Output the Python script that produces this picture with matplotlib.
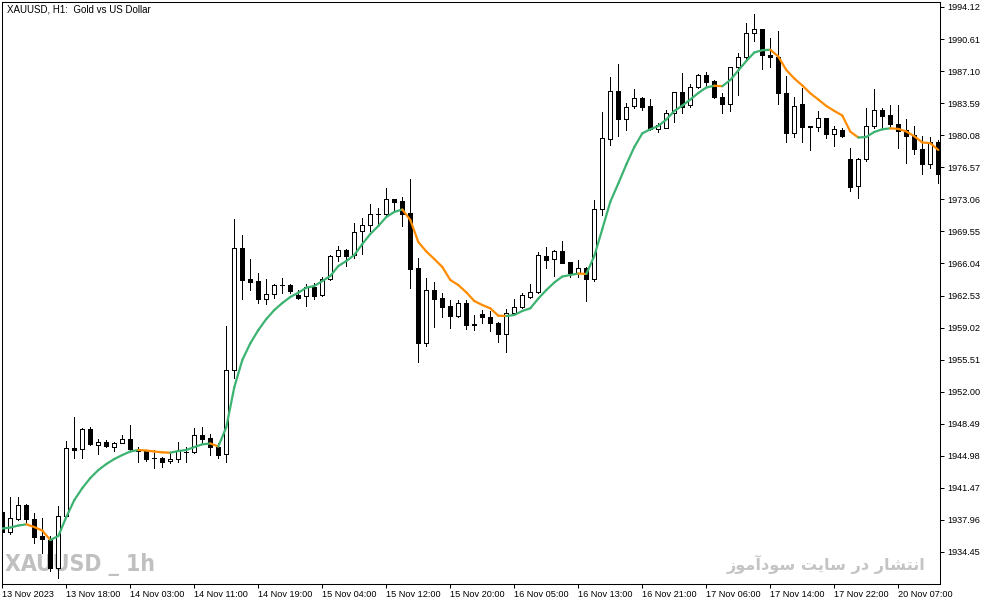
import matplotlib
matplotlib.use("Agg")
import matplotlib.pyplot as plt
from matplotlib.collections import LineCollection
import numpy as np

# ---------------- data ----------------
open_ = [1938.80, 1936.61, 1938.06, 1939.60, 1938.06, 1936.23, 1935.80, 1932.70, 1938.42, 1945.80,
         1945.69, 1947.88, 1946.17, 1946.53, 1945.98, 1946.42, 1946.79, 1945.67, 1945.54, 1944.74,
         1944.71, 1944.41, 1944.60, 1945.45, 1945.36, 1947.22, 1946.90, 1945.91, 1945.14, 1954.34,
         1967.70, 1964.34, 1964.12, 1962.11, 1962.66, 1963.63, 1963.68, 1962.55, 1962.44, 1963.43,
         1962.59, 1964.31, 1966.82, 1967.48, 1966.97, 1969.56, 1970.22, 1971.42, 1971.42, 1973.10,
         1972.88, 1971.53, 1965.51, 1957.36, 1963.10, 1962.23, 1961.35, 1960.32, 1961.71, 1959.36,
         1960.51, 1960.15, 1959.49, 1958.28, 1960.65, 1961.31, 1962.40, 1962.88, 1966.86, 1966.50,
         1967.41, 1966.20, 1964.96, 1965.51, 1964.31, 1971.97, 1979.64, 1984.93, 1981.89, 1983.32,
         1984.13, 1983.28, 1980.80, 1980.91, 1982.48, 1984.78, 1983.36, 1985.33, 1986.64, 1985.99,
         1984.30, 1983.47, 1987.52, 1988.62, 1991.24, 1991.68, 1988.87, 1988.62, 1984.67, 1980.29,
         1983.47, 1981.04, 1981.02, 1981.94, 1980.25, 1980.66, 1977.48, 1974.52, 1977.45, 1981.09,
         1982.84, 1982.26, 1981.28, 1980.66, 1980.11, 1978.57, 1976.90, 1979.37]
high = [1938.90, 1940.44, 1940.50, 1939.70, 1938.68, 1938.14, 1936.20, 1939.48, 1946.60, 1949.26,
        1948.02, 1948.17, 1946.86, 1946.70, 1946.53, 1947.26, 1948.35, 1945.94, 1945.67, 1945.62,
        1944.88, 1945.32, 1946.46, 1945.98, 1947.99, 1948.10, 1947.36, 1946.35, 1959.19, 1970.91,
        1969.16, 1966.53, 1965.03, 1964.34, 1963.79, 1964.42, 1963.79, 1963.13, 1963.76, 1963.90,
        1964.59, 1966.97, 1967.95, 1967.62, 1970.44, 1971.02, 1972.52, 1972.15, 1974.27, 1973.15,
        1973.35, 1975.29, 1966.61, 1964.42, 1964.04, 1962.77, 1962.04, 1962.04, 1962.04, 1960.40,
        1960.95, 1960.87, 1959.66, 1961.02, 1962.12, 1962.77, 1963.76, 1967.33, 1967.81, 1967.51,
        1968.50, 1966.25, 1966.42, 1965.69, 1972.99, 1982.66, 1986.43, 1987.88, 1983.58, 1985.11,
        1984.30, 1984.05, 1981.45, 1982.85, 1984.82, 1986.93, 1985.69, 1986.79, 1987.04, 1986.13,
        1984.67, 1987.55, 1989.12, 1992.34, 1993.32, 1991.71, 1990.70, 1991.53, 1986.60, 1984.24,
        1985.22, 1981.09, 1982.74, 1982.00, 1981.13, 1980.84, 1978.65, 1977.56, 1983.03, 1985.14,
        1983.03, 1983.39, 1983.39, 1981.86, 1981.13, 1980.00, 1979.92, 1979.56]
low = [1936.40, 1936.42, 1937.95, 1937.59, 1935.40, 1934.35, 1932.40, 1931.60, 1938.39, 1944.71,
       1944.74, 1946.16, 1945.14, 1945.90, 1945.51, 1946.35, 1945.62, 1944.33, 1944.41, 1943.64,
       1943.72, 1944.16, 1944.27, 1944.27, 1945.25, 1946.35, 1945.07, 1944.71, 1944.27, 1953.53,
       1962.15, 1963.14, 1961.68, 1961.60, 1962.23, 1962.77, 1962.77, 1962.11, 1961.41, 1962.15,
       1962.48, 1964.28, 1966.34, 1965.80, 1966.67, 1967.08, 1969.63, 1970.14, 1971.35, 1971.79,
       1970.18, 1963.39, 1955.28, 1957.03, 1959.12, 1960.21, 1959.01, 1960.21, 1958.87, 1958.76,
       1959.49, 1958.68, 1957.48, 1956.38, 1960.40, 1961.13, 1962.23, 1962.77, 1965.58, 1964.67,
       1966.06, 1964.52, 1964.59, 1961.96, 1964.15, 1971.35, 1979.01, 1980.00, 1980.65, 1983.03,
       1982.85, 1980.65, 1980.47, 1980.84, 1981.56, 1982.55, 1983.14, 1985.22, 1985.33, 1984.13,
       1982.55, 1982.77, 1984.49, 1988.40, 1990.43, 1987.30, 1987.59, 1983.47, 1979.37, 1979.85,
       1979.37, 1978.47, 1980.54, 1979.75, 1978.93, 1979.89, 1973.97, 1973.24, 1977.29, 1980.84,
       1981.02, 1980.84, 1978.71, 1977.01, 1978.03, 1975.80, 1976.46, 1974.82]
close = [1936.61, 1938.14, 1939.56, 1938.03, 1936.13, 1935.90, 1932.70, 1938.44, 1945.80, 1945.65,
         1947.88, 1946.24, 1946.53, 1946.05, 1946.35, 1946.79, 1945.69, 1945.56, 1944.63, 1944.69,
         1944.33, 1944.63, 1945.54, 1945.42, 1947.22, 1946.86, 1945.91, 1945.07, 1954.34, 1967.70,
         1964.26, 1964.04, 1962.11, 1962.66, 1963.68, 1963.68, 1963.06, 1962.29, 1963.43, 1962.48,
         1964.31, 1966.86, 1967.48, 1966.82, 1969.52, 1970.22, 1971.42, 1971.46, 1973.07, 1972.80,
         1971.49, 1965.43, 1957.36, 1963.13, 1962.15, 1961.31, 1960.32, 1961.68, 1959.34, 1959.33,
         1960.21, 1959.49, 1958.28, 1960.65, 1961.31, 1962.55, 1962.92, 1966.97, 1966.42, 1967.41,
         1966.12, 1964.96, 1965.51, 1964.31, 1971.97, 1979.75, 1984.93, 1981.89, 1983.21, 1984.13,
         1983.21, 1980.73, 1981.20, 1982.48, 1984.78, 1983.21, 1985.33, 1986.64, 1985.94, 1984.30,
         1983.47, 1987.52, 1988.62, 1991.24, 1991.68, 1988.87, 1988.62, 1984.67, 1980.29, 1983.32,
         1981.02, 1981.01, 1981.94, 1980.22, 1980.76, 1980.00, 1974.45, 1977.45, 1981.09, 1982.84,
         1982.22, 1981.28, 1980.58, 1980.03, 1978.54, 1976.90, 1979.31, 1975.80]
moving_avg = [1937.02, 1937.13, 1937.35, 1937.48, 1937.18, 1936.80, 1935.76, 1936.20, 1938.28, 1940.14,
              1941.45, 1942.55, 1943.42, 1944.08, 1944.63, 1945.07, 1945.45, 1945.62, 1945.56, 1945.45,
              1945.36, 1945.32, 1945.51, 1945.62, 1945.94, 1946.24, 1946.33, 1946.00, 1948.13, 1952.51,
              1955.47, 1957.30, 1958.75, 1959.96, 1960.94, 1961.71, 1962.37, 1962.84, 1963.39, 1963.57,
              1964.12, 1964.67, 1965.76, 1966.31, 1966.97, 1968.17, 1969.27, 1970.14, 1971.13, 1971.68,
              1971.95, 1970.80, 1968.39, 1967.35, 1966.53, 1965.65, 1964.23, 1963.68, 1962.88, 1961.93,
              1961.49, 1961.13, 1960.32, 1960.29, 1960.40, 1960.84, 1961.13, 1962.20, 1963.13, 1963.96,
              1964.61, 1964.78, 1964.94, 1964.89, 1966.86, 1969.81, 1972.80, 1974.80, 1976.88, 1978.79,
              1980.29, 1980.73, 1981.09, 1981.80, 1982.74, 1983.32, 1983.99, 1984.71, 1985.31, 1985.50,
              1985.45, 1986.13, 1987.17, 1988.21, 1989.14, 1989.39, 1989.44, 1988.70, 1987.22, 1986.29,
              1985.53, 1984.67, 1983.99, 1983.28, 1982.74, 1982.24, 1980.47, 1979.83, 1979.89, 1980.44,
              1980.73, 1980.84, 1980.77, 1980.49, 1979.97, 1979.29, 1979.21, 1978.47]

x_tick_bars = [0, 8, 16, 24, 32, 40, 48, 56, 64, 72, 80, 88, 96, 104, 112]
x_tick_labels = ["13 Nov 2023", "13 Nov 18:00", "14 Nov 03:00", "14 Nov 11:00", "14 Nov 19:00",
                 "15 Nov 04:00", "15 Nov 12:00", "15 Nov 20:00", "16 Nov 05:00", "16 Nov 13:00",
                 "16 Nov 21:00", "17 Nov 06:00", "17 Nov 14:00", "17 Nov 22:00", "20 Nov 07:00"]
y_ticks = [1934.45, 1937.96, 1941.47, 1944.98, 1948.49, 1952.00, 1955.51, 1959.02, 1962.53,
           1966.04, 1969.55, 1973.06, 1976.57, 1980.08, 1983.59, 1987.10, 1990.61, 1994.12]

title_text = "XAUUSD, H1:  Gold vs US Dollar"
watermark_left = "XAUUSD _ 1h"
watermark_right = "انتشار در سایت سودآموز"

# ---------------- simple Persian shaping (presentation forms) ----------------
FORMS = {
    '\u0627': ('\uFE8D', '\uFE8E', None, None),
    '\u0622': ('\uFE81', '\uFE82', None, None),
    '\u0646': ('\uFEE5', '\uFEE6', '\uFEE7', '\uFEE8'),
    '\u062A': ('\uFE95', '\uFE96', '\uFE97', '\uFE98'),
    '\u0634': ('\uFEB5', '\uFEB6', '\uFEB7', '\uFEB8'),
    '\u0631': ('\uFEAD', '\uFEAE', None, None),
    '\u062F': ('\uFEA9', '\uFEAA', None, None),
    '\u0633': ('\uFEB1', '\uFEB2', '\uFEB3', '\uFEB4'),
    '\u06CC': ('\uFBFC', '\uFBFD', '\uFEF3', '\uFEF4'),
    '\u064A': ('\uFEF1', '\uFEF2', '\uFEF3', '\uFEF4'),
    '\u0648': ('\uFEED', '\uFEEE', None, None),
    '\u0645': ('\uFEE1', '\uFEE2', '\uFEE3', '\uFEE4'),
    '\u0632': ('\uFEAF', '\uFEB0', None, None),
}


def shape_rtl(text):
    out = []
    for i, ch in enumerate(text):
        if ch not in FORMS:
            out.append(ch)
            continue
        prev = text[i - 1] if i > 0 else ''
        nxt = text[i + 1] if i + 1 < len(text) else ''
        jp = prev in FORMS and FORMS[prev][2] is not None
        jn = FORMS[ch][2] is not None and nxt in FORMS
        iso, fin, ini, med = FORMS[ch]
        out.append(med if (jp and jn) else fin if jp else ini if jn else iso)
    return ''.join(reversed(out))


# ---------------- figure ----------------
W, H = 994, 605
fig = plt.figure(figsize=(W / 100, H / 100), dpi=100, facecolor='white')
left_px, right_px, top_px, bottom_px = 2, 940, 2, 584
ax = fig.add_axes([left_px / W, 1 - bottom_px / H, (right_px - left_px) / W, (bottom_px - top_px) / H])
ax.set_facecolor('white')

n = len(close)
x = np.arange(n)
o = np.array(open_); h = np.array(high); l = np.array(low); c = np.array(close)
up = c >= o

# wicks
ax.vlines(x, l, h, colors='black', linewidth=0.6, zorder=2, antialiased=False)
# bodies
body_bottom = np.minimum(o, c)
body_height = np.abs(c - o)
ax.bar(x[up], body_height[up], bottom=body_bottom[up], width=0.5, facecolor='white',
       edgecolor='black', linewidth=0.6, zorder=3, antialiased=False)
ax.bar(x[~up], body_height[~up], bottom=body_bottom[~up], width=0.5, facecolor='black',
       edgecolor='black', linewidth=0.6, zorder=3, antialiased=False)

# moving average coloured by direction
ma = np.array(moving_avg)
pts = np.column_stack([x, ma])
segs = np.stack([pts[:-1], pts[1:]], axis=1)
seg_colors = ['#3cb371' if ma[i + 1] >= ma[i] else '#ff8c00' for i in range(n - 1)]
lc = LineCollection(segs, colors=seg_colors, linewidths=1.6, zorder=4, capstyle='round')
ax.add_collection(lc)

# limits
ax.set_xlim(-0.04, -0.04 + (right_px - left_px) / 8.0)
price_per_px = (1994.12 - 1934.45) / (552 - 7)
ax.set_ylim(1994.12 - (bottom_px - 7) * price_per_px, 1994.12 + (7 - top_px) * price_per_px)

# spines
for s in ax.spines.values():
    s.set_linewidth(0.75)
    s.set_color('black')

# ticks
ax.yaxis.tick_right()
ax.set_yticks(y_ticks)
ax.set_yticklabels([f"{v:.2f}" for v in y_ticks])
ax.set_xticks(x_tick_bars)
ax.set_xticklabels(x_tick_labels, ha='left')
ax.tick_params(axis='y', direction='out', length=3, width=0.75, pad=2, labelsize=6.6,
               labelfontfamily='Liberation Sans')
ax.tick_params(axis='x', direction='out', length=3, width=0.75, pad=1.5, labelsize=6.6,
               labelfontfamily='Liberation Sans')

# header text
ax.text(5 / (right_px - left_px), 1 - (9 - top_px) / (bottom_px - top_px), title_text,
        transform=ax.transAxes, ha='left', va='center', fontsize=7,
        family=['Liberation Sans', 'DejaVu Sans'], color='black', zorder=5)

# watermarks
ax.text((5 - left_px) / (right_px - left_px), 1 - (564 - top_px) / (bottom_px - top_px),
        watermark_left, transform=ax.transAxes, ha='left', va='center', fontsize=16.5,
        fontweight='bold', fontstretch='condensed', family=['DejaVu Sans'],
        color='#c0c0c0', zorder=1)
ax.text((925 - left_px) / (right_px - left_px), 1 - (564 - top_px) / (bottom_px - top_px),
        shape_rtl(watermark_right), transform=ax.transAxes, ha='right', va='center', fontsize=11.6,
        fontweight='bold', family=['DejaVu Sans'], color='#c4c4c4', zorder=1)

fig.savefig('out.png', dpi=100, facecolor='white')
